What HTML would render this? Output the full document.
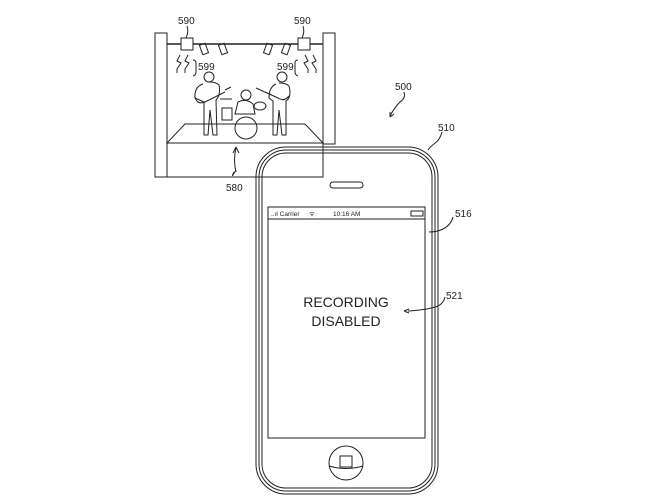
<!DOCTYPE html>
<html><head><meta charset="utf-8"><style>
html,body{margin:0;padding:0;background:#fff;}
svg{display:block;font-family:"Liberation Sans",sans-serif;}
</style></head><body>
<svg width="672" height="504" viewBox="0 0 672 504" xmlns="http://www.w3.org/2000/svg">
<g fill="none" stroke="#222" stroke-width="1">
<!-- stage frame -->
<rect x="155" y="33" width="12" height="144"/>
<rect x="323" y="33" width="12" height="111"/>
<line x1="167" y1="177" x2="256" y2="177"/>
<line x1="167" y1="44" x2="323" y2="44" stroke-width="1.5"/>
<!-- stage platform -->
<polygon points="185,124 305,124 323,143 167,143"/>
<rect x="167" y="143" width="156" height="34"/>
<!-- lights boxes -->
<rect x="181" y="38" width="12" height="12" fill="#fff"/>
<rect x="298" y="38" width="12" height="12" fill="#fff"/>
<rect x="201" y="44" width="6" height="10" transform="rotate(-20 204 49)"/>
<rect x="220" y="44" width="6" height="10" transform="rotate(-20 223 49)"/>
<rect x="265" y="44" width="6" height="10" transform="rotate(20 268 49)"/>
<rect x="283" y="44" width="6" height="10" transform="rotate(20 286 49)"/>
<!-- lightning squiggles -->
<path d="M180,55 l-3,6 l4,2 l-4,6 l0,4 M188,55 l-3,6 l4,2 l-4,6 l0,4"/>
<path d="M305,55 l3,6 l-4,2 l4,6 l0,4 M313,55 l3,6 l-4,2 l4,6 l0,4"/>
<path d="M193,60 q3,0 3,3 l0,9 q0,3 -3,4"/>
<path d="M298,60 q-3,0 -3,3 l0,9 q0,3 3,4"/>
<!-- musicians rough -->
<circle cx="209" cy="77" r="5"/>
<path d="M203,84 q-9,3 -8,14 l9,4 l0,33 l4,0 l2,-25 l3,25 l4,0 l-1,-35 q5,-5 3,-15 q-3,-3 -10,-3"/>
<path d="M195,97 q2,8 10,5 l20,-10 M225,90 l6,-3"/>
<circle cx="282" cy="77" r="5"/>
<path d="M276,84 q-7,3 -7,14 l4,3 l0,34 l4,0 l2,-25 l3,25 l4,0 l0,-34 q6,-4 3,-15 q-3,-3 -10,-3"/>
<path d="M256,88 l22,10 q6,4 11,-2"/>
<circle cx="246" cy="95" r="5"/>
<path d="M238,102 q8,-4 15,2 l2,10 l-20,0 z"/>
<circle cx="246" cy="128" r="11"/>
<ellipse cx="260" cy="106" rx="6" ry="4"/>
<rect x="222" y="108" width="10" height="12"/>
<line x1="220" y1="99" x2="232" y2="99"/>
<!-- 580 arrow -->
<path d="M234,172 q-4,8 2,-2 M236,148 q-3,12 0,24"/>
<path d="M236,147 l-3,6 M236,147 l3,6"/>
<!-- leader lines -->
<path d="M187,26 q2,6 -1,12"/>
<path d="M303,26 q2,6 -1,12"/>
<path d="M404,92 q2,6 -4,10 q-6,6 -10,14"/>
<path d="M390,117 l0,-5 M390,117 l4,-3"/>
<path d="M442,132 q-2,8 -8,12 q-4,3 -6,6"/>
<path d="M453,217 q-2,8 -10,12 q-6,3 -14,3"/>
<path d="M445,297 q-2,8 -10,10 q-10,3 -27,4"/>
<path d="M404,311 l5,-2 M404,311 l5,2"/>
<!-- phone -->
<rect x="256" y="147" width="182" height="347" rx="30"/>
<rect x="259" y="150" width="176" height="341" rx="27"/>
<rect x="262" y="153" width="170" height="335" rx="24"/>
<rect x="268" y="207" width="157" height="231"/>
<line x1="268" y1="219" x2="425" y2="219"/>
<rect x="330" y="182" width="33" height="6" rx="3"/>
<rect x="411" y="211" width="12" height="5"/>
<circle cx="346" cy="463" r="17"/>
<rect x="340" y="456" width="12" height="11"/>
<path d="M329,466 q17,5 34,0"/>
</g>
<g fill="#222" font-size="10">
<text x="178" y="24">590</text>
<text x="294" y="24">590</text>
<text x="198" y="70">599</text>
<text x="277" y="70">599</text>
<text x="226" y="191">580</text>
<text x="395" y="90">500</text>
<text x="438" y="131">510</text>
<text x="455" y="217">516</text>
<text x="446" y="299">521</text>
<text x="271" y="216" font-size="6.5">..ıl Carrier</text>
<text x="309" y="216" font-size="6.5">ᯤ</text>
<text x="333" y="216" font-size="6.5">10:16 AM</text>
<text x="346" y="307" font-size="14" text-anchor="middle">RECORDING</text>
<text x="346" y="326" font-size="14" text-anchor="middle">DISABLED</text>
</g>
</svg>
</body></html>
